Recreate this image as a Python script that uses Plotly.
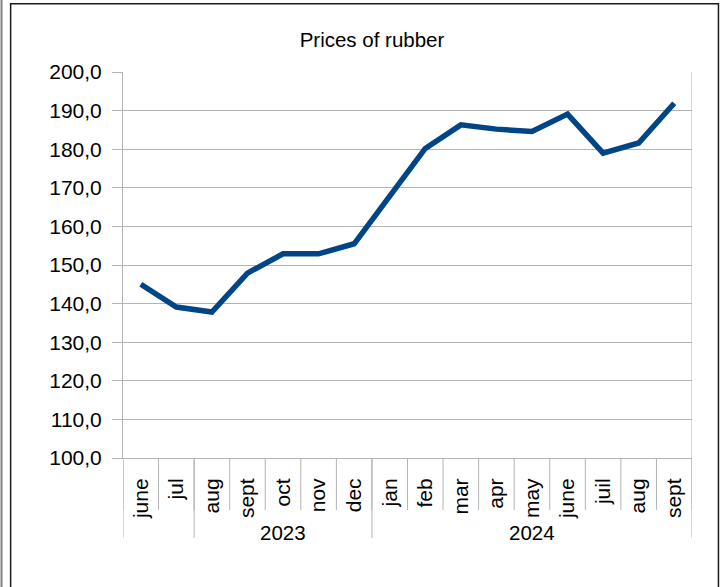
import plotly.graph_objects as go

months = ["june", "jul", "aug", "sept", "oct", "nov", "dec", "jan", "feb",
          "mar", "apr", "may", "june", "juil", "aug", "sept"]
prices = [145.0, 139.1, 137.8, 147.9, 152.9, 152.9, 155.5, 167.6, 180.2,
          186.3, 185.2, 184.6, 189.1, 179.0, 181.6, 191.9]
year_labels = ["", "2023", "2024"]
group_sizes = [2, 5, 9]
y_ticks = [100, 110, 120, 130, 140, 150, 160, 170, 180, 190, 200]

GRID = "#b3b3b3"
LINE = "#004586"
FONT = "Liberation Sans, Arial, sans-serif"

xs = list(range(len(months)))

fig = go.Figure()
fig.add_trace(go.Scatter(x=xs, y=prices, mode="lines",
                         line=dict(color=LINE, width=5.5), hoverinfo="skip"))

shapes = []
# tick marks between categories below the axis
for k in range(len(months) + 1):
    shapes.append(dict(type="line", xref="x", yref="paper",
                       x0=k - 0.5, x1=k - 0.5, y0=0, y1=-0.1346,
                       line=dict(color=GRID, width=1)))
# group separators
annotations = []
start = 0
bounds = [0]
for size in group_sizes:
    start += size
    bounds.append(start)
for b in bounds:
    shapes.append(dict(type="line", xref="x", yref="paper",
                       x0=b - 0.5, x1=b - 0.5, y0=0, y1=-0.207,
                       line=dict(color=GRID, width=1)))
for i, lab in enumerate(year_labels):
    if lab:
        c = (bounds[i] + bounds[i + 1] - 1) / 2
        annotations.append(dict(x=c, y=-0.194, xref="x", yref="paper",
                                text=lab, showarrow=False,
                                font=dict(size=20.5, color="#000000", family=FONT),
                                xanchor="center", yanchor="middle"))
# right plot edge
shapes.append(dict(type="line", xref="x", yref="paper",
                   x0=len(months) - 0.5, x1=len(months) - 0.5, y0=0, y1=1,
                   line=dict(color=GRID, width=1)))
# outer frames
shapes.append(dict(type="rect", xref="paper", yref="paper",
                   x0=-0.1975, x1=1.0465, y0=-0.5, y1=1.1766,
                   line=dict(color="#1a1a1a", width=1.5), fillcolor="rgba(0,0,0,0)"))
shapes.append(dict(type="line", xref="paper", yref="paper",
                   x0=-0.2135, x1=-0.2135, y0=-0.5, y1=1.3,
                   line=dict(color="#808080", width=2)))

fig.update_layout(
    width=725, height=587,
    margin=dict(l=123, r=33, t=72, b=129, pad=0, autoexpand=False),
    paper_bgcolor="white", plot_bgcolor="white",
    showlegend=False,
    separators=", ",
    font=dict(family=FONT, color="#000000"),
    title=dict(text="Prices of rubber", x=372 / 725, xanchor="center",
               y=1 - 40 / 587, yanchor="middle", xref="container", yref="container",
               font=dict(size=20.5, family=FONT, color="#000000")),
    xaxis=dict(range=[-0.5, len(months) - 0.5], tickmode="array",
               tickvals=xs, ticktext=months, tickangle=-90,
               showgrid=False, zeroline=False, ticks="", automargin=False,
               showline=True, linecolor=GRID, linewidth=1,
               ticklabelstandoff=11,
               tickfont=dict(size=21, family=FONT, color="#000000")),
    yaxis=dict(range=[100, 200], tickmode="array", tickvals=y_ticks,
               tickformat=".1f", showgrid=True, gridcolor=GRID, gridwidth=1,
               zeroline=False, showline=True, linecolor=GRID, linewidth=1,
               ticks="outside", ticklen=10, tickcolor=GRID, automargin=False,
               ticklabelstandoff=6,
               tickfont=dict(size=21, family=FONT, color="#000000")),
    shapes=shapes,
    annotations=annotations,
)

fig.write_html("out.html", config={"displayModeBar": False},
               post_script="document.body.style.margin='0';document.body.style.overflow='hidden';")
